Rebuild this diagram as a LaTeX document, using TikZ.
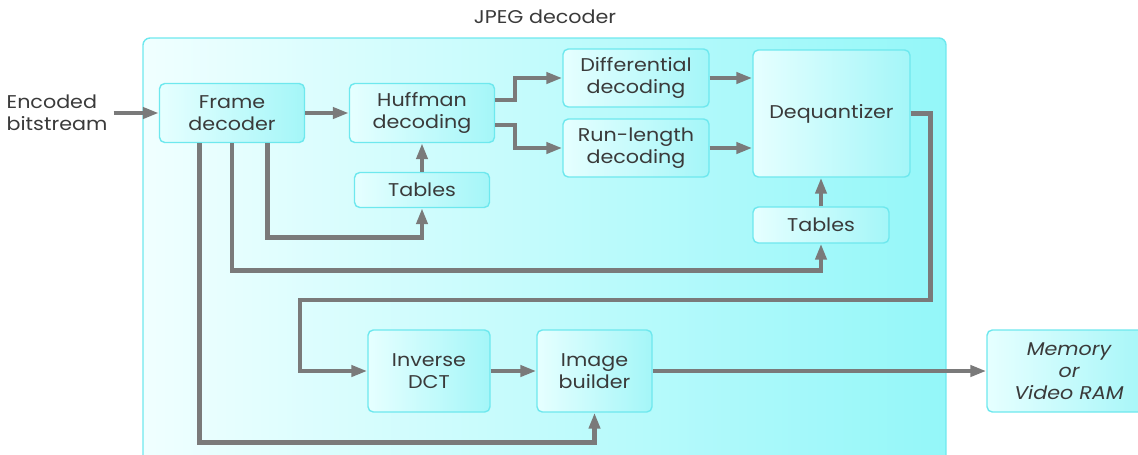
\documentclass[tikz,border=0pt]{standalone}
\usepackage{fontspec}
\setmainfont{Poppins}[FakeStretch=1.12]
\usepackage{xcolor}
\usetikzlibrary{arrows.meta}
\definecolor{cianclaro}{HTML}{E6FFFF}
\definecolor{cianfuerte}{HTML}{A4F6F8}
\definecolor{cianborde}{HTML}{6EE8EE}
\definecolor{gris}{HTML}{7A7A7A}
\definecolor{texto}{HTML}{3A3A3A}

\begin{document}
\begin{tikzpicture}[font=\fontsize{10.5}{12.5}\selectfont, text=texto]
      % Definimos algunos estilos
      \tikzstyle{bloque}=[
        draw=cianborde,
        line width=0.8pt,
        rounded corners=3pt,
        left color=cianclaro,
        right color=cianfuerte,
        align=center,
        inner sep=0pt
      ]
      % las conexiones son lineas grises gruesas
      \tikzstyle{flecha}=[
        draw=gris,
        line width=2.6pt,
        -{Triangle[length=3.2mm,width=2.2mm]}
      ]

      \clip (0,0) rectangle (22.76,-9.08);

      % decodificador JPEG
      \draw[draw=cianborde, line width=0.8pt, rounded corners=4pt,
            left color=cianclaro!60!white, right color=cianfuerte!90!cyan]
            (2.86,-0.76) rectangle (18.92,-9.4);
      \node (titulo) at (10.9, -0.34) {JPEG decoder};

      % entrada
      \node[align=left] (enc) at (1.14, -2.26) {Encoded\\bitstream};

      % bloques de arriba
      \node[bloque, minimum width=2.9cm, minimum height=1.18cm] (frame) at (4.64, -2.26) {Frame\\decoder};
      \node[bloque, minimum width=2.9cm, minimum height=1.18cm] (huff) at (8.44, -2.26) {Huffman\\decoding};
      \node[bloque, minimum width=2.7cm, minimum height=0.7cm] (tab1) at (8.44, -3.8) {Tables};
      \node[bloque, minimum width=2.92cm, minimum height=1.16cm] (dif) at (12.72, -1.56) {Differential\\decoding};
      \node[bloque, minimum width=2.92cm, minimum height=1.16cm] (run) at (12.72, -2.96) {Run-length\\decoding};
      \node[bloque, minimum width=3.14cm, minimum height=2.54cm] (deq) at (16.63, -2.27) {Dequantizer};
      \node[bloque, minimum width=2.72cm, minimum height=0.72cm] (tab2) at (16.42, -4.5) {Tables};

      % bloques de abajo
      \node[bloque, minimum width=2.44cm, minimum height=1.64cm] (idct) at (8.58, -7.42) {Inverse\\DCT};
      \node[bloque, minimum width=2.3cm, minimum height=1.64cm] (imgb) at (11.89, -7.42) {Image\\builder};
      \node[bloque, minimum width=3.28cm, minimum height=1.64cm, font=\fontsize{10.5}{12.5}\selectfont\itshape] (mem) at (21.38, -7.42) {Memory\\or\\Video RAM};

      % flujo principal
      \draw[flecha] (enc) -- (frame);
      \draw[flecha] (frame) -- (huff);
      \draw[flecha] ([yshift=0.26cm]huff.east) -- ++(0.4,0) |- (dif.west);
      \draw[flecha] ([yshift=-0.24cm]huff.east) -- ++(0.4,0) |- (run.west);
      \draw[flecha] (dif.east) -- (dif.east -| deq.west);
      \draw[flecha] (run.east) -- (run.east -| deq.west);
      \draw[flecha] (tab1) -- (huff);
      \draw[flecha] (tab2.north) -- (tab2.north |- deq.south);

      % del frame decoder a las tablas y al image builder
      \draw[flecha] ([xshift=0.71cm]frame.south) -- ++(0,-1.89) -| (tab1.south);
      \draw[flecha] (frame.south) -- ++(0,-2.55) -| (tab2.south);
      \draw[flecha] ([xshift=-0.65cm]frame.south) -- ++(0,-5.99) -| (imgb.south);

      % del dequantizer a la IDCT
      \coordinate (giro) at (6.0, -6.0);
      \draw[flecha] (deq.east) -- ++(0.4,0) |- (giro) |- (idct.west);
      \draw[flecha] (idct) -- (imgb);
      \draw[flecha] (imgb) -- (mem);
\end{tikzpicture}
\end{document}
